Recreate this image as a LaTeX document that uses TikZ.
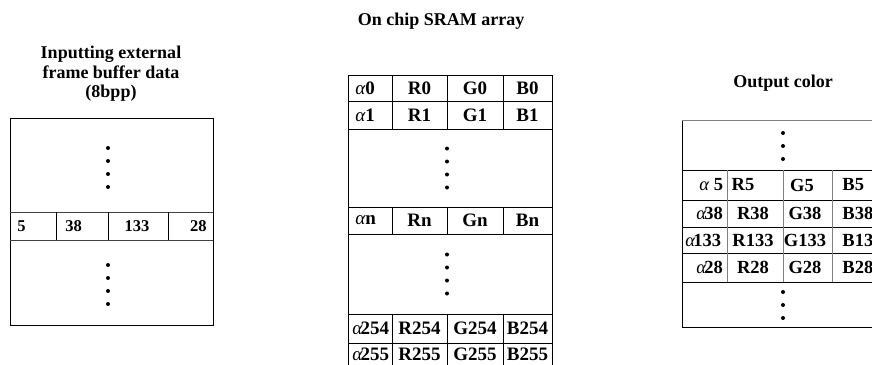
\documentclass[tikz,border=0pt]{standalone}
\usepackage{fontspec}
\setmainfont{Liberation Serif}
\newcommand{\al}{{\normalfont\itshape α}}
\newcommand{\alk}{{\normalfont\itshape α}\kern-1.8pt}
\begin{document}
\begin{tikzpicture}[x=1pt, y=-1pt, line width=0.9pt,
    heading/.style={font=\bfseries\fontsize{18}{19.5}\selectfont, align=center, inner sep=0pt},
    cell/.style={font=\bfseries\fontsize{19}{19}\selectfont, inner sep=0pt},
    incell/.style={font=\bfseries\fontsize{16.5}{16.5}\selectfont, inner sep=0pt},
    outcell/.style={font=\bfseries\fontsize{18.5}{18.5}\selectfont, inner sep=0pt},
    vdot/.style={circle, fill, inner sep=0pt, minimum size=4pt}]
    \clip (0,0) rectangle (872,364);

    % Input buffer
    \node[heading] (hin) at (111,74) {Inputting external\\frame buffer data\\(8bpp)};
    \draw (10,118) rectangle (213,325);
    \draw[black!75] (10,212)--(213,212) (10,240)--(213,240);
    \foreach \x in {56,108,168} \draw (\x,212)--(\x,240);
    \foreach \y [count=\i] in {148,161,174,187} \node[vdot] (iu\i) at (108,\y) {};
    \foreach \y [count=\i] in {265,278,291,304} \node[vdot] (il\i) at (108,\y) {};
    \node[incell, anchor=west] (i5) at (17,226) {5};
    \node[incell, anchor=west] (i38) at (65,226) {38};
    \node[incell] (i133) at (137,226) {133};
    \node[incell, anchor=east] (i28) at (207,226) {28};

    % SRAM array
    \node[heading, anchor=base] (hsram) at (441,25) {On chip SRAM array};
    \draw (348,380)--(348,75)--(552,75)--(552,380);
    \foreach \y in {101,129,207,234,314,343} \draw (348,\y)--(552,\y);
    \foreach \x in {392,447,503} \draw (\x,75)--(\x,129) (\x,207)--(\x,234) (\x,314)--(\x,380);
    \foreach \k/\y in {0/88, 1/115, n/220.5} {
        \node[cell, anchor=west] (sa\k) at (355,\y) {\al\k};
        \node[cell] (sr\k) at (419.5,\y) {R\k};
        \node[cell] (sg\k) at (475,\y) {G\k};
        \node[cell] (sb\k) at (527.5,\y) {B\k};
    }
    \foreach \k/\y in {254/328.5, 255/354} {
        \node[cell, anchor=west] (sa\k) at (352,\y) {\alk\k};
        \node[cell] (sr\k) at (419.5,\y) {R\k};
        \node[cell] (sg\k) at (475,\y) {G\k};
        \node[cell] (sb\k) at (527.5,\y) {B\k};
    }
    \foreach \y [count=\i] in {148.5,161.5,174.5,187.5} \node[vdot] (su\i) at (447,\y) {};
    \foreach \y [count=\i] in {254.5,267.5,280.5,293.5} \node[vdot] (sl\i) at (447,\y) {};

    % Output color
    \node[heading, anchor=base] (hout) at (783,87) {Output color};
    \draw (890,120)--(682,120)--(682,327)--(890,327);
    \draw[gray] (682,120)--(890,120);
    \foreach \y in {170,200,227,253,282} \draw (682,\y)--(890,\y);
    \foreach \x in {727,783,832} \draw[gray] (\x,170)--(\x,282);
    \foreach \y [count=\i] in {133,146,159} \node[vdot] (ou\i) at (783,\y) {};
    \foreach \y [count=\i] in {292,305,318} \node[vdot] (ol\i) at (783,\y) {};
    \node[outcell, anchor=west] (oa5) at (699,185) {\al\ 5};
    \node[outcell] (or5) at (743,185) {R5};
    \node[outcell] (og5) at (802,185) {G5};
    \node[outcell, anchor=west] (ob5) at (842,185) {B5};
    \foreach \k/\y/\ax in {38/213.5/696, 133/240/685, 28/267.5/696} {
        \node[outcell, anchor=west] (oa\k) at (\ax,\y) {\alk\k};
        \node[outcell] (or\k) at (753,\y) {R\k};
        \node[outcell] (og\k) at (805,\y) {G\k};
        \node[outcell, anchor=west] (ob\k) at (842,\y) {B\k};
    }
\end{tikzpicture}
\end{document}
